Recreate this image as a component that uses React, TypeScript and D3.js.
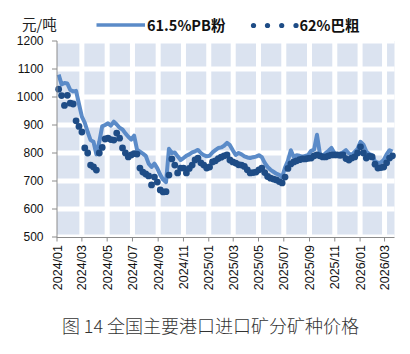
import React from "react";
import * as d3 from "d3";

// Weekly observations starting 2024-01-05
const startDate = "2024-01-05";

// 61.5% PB fines (元/吨)
const pbValues = [
  1080, 1045, 1050, 1048, 1025, 1020, 1022, 975, 930, 908,
  875, 846, 840, 795, 840, 895, 900, 906, 898, 912,
  902, 890, 884, 870, 858, 848, 862, 812, 805, 798,
  790, 762, 750, 762, 745, 722, 705, 696, 815, 800,
  802, 788, 775, 782, 790, 795, 802, 806, 811, 800,
  792, 788, 790, 802, 810, 818, 820, 826, 836, 828,
  810, 793, 800, 795, 788, 784, 782, 785, 787, 792,
  785, 765, 750, 740, 733, 726, 722, 714, 748, 772,
  810, 786, 792, 790, 787, 790, 793, 808, 812, 865,
  798, 788, 800, 808, 818, 800, 793, 798, 802, 810,
  798, 793, 804, 815, 840, 830, 805, 796, 792, 770,
  765, 766, 775, 795, 810, 805,
];

// 62% Brazilian coarse (元/吨)
const cuValues = [
  1028, 1005, 970, 1006, 978, 975, 915, 895, 875, 818,
  800, 757, 750, 739, 800, 820, 850, 853, 848, 846,
  871, 853, 818, 800, 786, 793, 798, 796, 746, 732,
  725, 718, 686, 714, 696, 668, 661, 662, 721, 779,
  757, 729, 746, 746, 729, 745, 757, 775, 782, 765,
  757, 746, 750, 768, 772, 780, 785, 790, 793, 775,
  768, 764, 758, 757, 752, 740, 729, 730, 732, 740,
  746, 730, 716, 710, 707, 704, 698, 693, 714, 745,
  761, 768, 772, 776, 779, 779, 781, 782, 790, 793,
  790, 786, 786, 790, 793, 793, 793, 792, 793, 780,
  775, 782, 786, 800, 822, 800, 782, 789, 786, 760,
  746, 748, 750, 765, 782, 790,
];

const seriesNames = ["61.5%PB粉", "62%巴粗"];
const yTicks = [500, 600, 700, 800, 900, 1000, 1100, 1200];
const unitLabel = "元/吨";
const caption = "图 14 全国主要港口进口矿分矿种价格";

const W = 410;
const H = 354;
const M = { left: 57, right: 394.5, top: 41, bottom: 237 };

const PB_COLOR = "#5b8bc8";
const CU_COLOR = "#1e4c86";
const BG = "#dbe3f0";
const AXIS = "#8c8c8c";
const NUM_FONT = "'Liberation Sans', Arial, sans-serif";
const CJK_FONT = "'Noto Sans CJK SC', 'Noto Sans', sans-serif";

export default function App() {
  const start = d3.timeParse("%Y-%m-%d")(startDate) as Date;
  const dates = pbValues.map((_, i) => d3.timeDay.offset(start, 7 * i));

  const x = d3
    .scaleTime()
    .domain([new Date(2024, 0, 1), new Date(2026, 2, 25)])
    .range([M.left, M.right]);
  const y = d3.scaleLinear().domain([500, 1200]).range([M.bottom, M.top]);

  const xTicks = d3.timeMonth.every(2)!.range(new Date(2024, 0, 1), new Date(2026, 2, 2));
  const fmt = d3.timeFormat("%Y/%m");

  const line = d3
    .line<number>()
    .x((_, i) => x(dates[i]))
    .y((d) => y(d));

  return (
    <svg
      width={W}
      height={H}
      style={{ position: "absolute", left: 0, top: 0, background: "#fff" }}
    >
      {/* plot background */}
      <rect x={M.left} y={M.top} width={M.right - M.left} height={M.bottom - M.top} fill={BG} />
      {/* white grid */}
      {yTicks.map((t) => (
        <line key={"hy" + t} x1={M.left} x2={M.right} y1={y(t)} y2={y(t)} stroke="#fff" strokeWidth={5} />
      ))}
      {xTicks.slice(1).map((t, i) => (
        <line key={"vx" + i} x1={x(t)} x2={x(t)} y1={M.top} y2={M.bottom} stroke="#fff" strokeWidth={5} />
      ))}

      {/* series */}
      <path d={line(pbValues) || ""} fill="none" stroke={PB_COLOR} strokeWidth={4} strokeLinejoin="round" />
      {cuValues.map((v, i) => (
        <circle key={"c" + i} cx={x(dates[i])} cy={y(v)} r={3.4} fill={CU_COLOR} />
      ))}

      {/* axes */}
      <line x1={M.left} x2={M.left} y1={M.top} y2={M.bottom + 0.5} stroke={AXIS} strokeWidth={1} />
      <line x1={M.left} x2={M.right} y1={M.bottom + 0.5} y2={M.bottom + 0.5} stroke={AXIS} strokeWidth={1} />
      {yTicks.map((t) => (
        <g key={"yt" + t}>
          <line x1={M.left - 5} x2={M.left} y1={y(t)} y2={y(t)} stroke={AXIS} />
          <text
            x={43.5}
            y={y(t)}
            dy="0.35em"
            textAnchor="end"
            fontFamily={NUM_FONT}
            fontSize={12}
            fill="#111"
          >
            {t}
          </text>
        </g>
      ))}
      {xTicks.map((t, i) => (
        <g key={"xt" + i}>
          <line x1={x(t)} x2={x(t)} y1={M.bottom} y2={M.bottom + 4.5} stroke={AXIS} />
          <text
            transform={`translate(${x(t)},${M.bottom + 8}) rotate(-90)`}
            dy="0.36em"
            textAnchor="end"
            fontFamily={NUM_FONT}
            fontSize={12.5}
            fill="#111"
          >
            {fmt(t)}
          </text>
        </g>
      ))}

      {/* unit + legend */}
      <text x={22} y={30} fontFamily={CJK_FONT} fontSize={14.5} fill="#222">
        {unitLabel}
      </text>
      <line x1={96.5} x2={145} y1={25} y2={25} stroke={PB_COLOR} strokeWidth={3.5} />
      <text x={147} y={30.5} fontFamily={CJK_FONT} fontSize={14.5} fontWeight="bold" fill="#111">
        {seriesNames[0]}
      </text>
      {[253.5, 267.5, 281.7, 296].map((cx, i) => (
        <circle key={"ld" + i} cx={cx} cy={25.5} r={2.6} fill={CU_COLOR} />
      ))}
      <text x={299.5} y={30.5} fontFamily={CJK_FONT} fontSize={14.5} fontWeight="bold" fill="#111">
        {seriesNames[1]}
      </text>

      {/* caption */}
      <text x={210.5} y={333} textAnchor="middle" fontFamily={CJK_FONT} fontSize={18} fontWeight={300} fill="#333">
        {caption}
      </text>
    </svg>
  );
}
